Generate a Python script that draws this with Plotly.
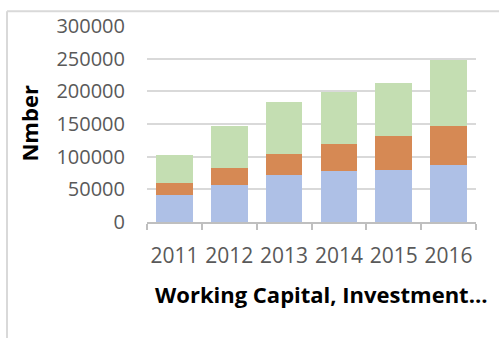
import plotly.graph_objects as go

# Stacked yearly totals
years = ["2011", "2012", "2013", "2014", "2015", "2016"]
working_capital = [41500, 56000, 71400, 77800, 79900, 87400]
investment = [17500, 25900, 32900, 41500, 51400, 59300]
other = [43400, 65400, 79400, 79800, 81300, 101300]

series_colors = ["#AEC0E6", "#D68954", "#C4DEB2"]
y_ticks = [0, 50000, 100000, 150000, 200000, 250000, 300000]

W, H = 499, 338
L, R, T, B = 147, 23, 21, 116
pw, ph = W - L - R, H - T - B

fig = go.Figure()
for name, vals, col in zip(["Working Capital", "Investment", "Other"],
                           [working_capital, investment, other], series_colors):
    fig.add_trace(go.Bar(x=years, y=vals, name=name,
                         marker=dict(color=col, line=dict(width=0))))


def px_x(p):
    return (p - L) / pw


def px_y(p):
    return (H - B - p) / ph


tick_font = dict(family="Open Sans", size=20, color="#595959")

fig.update_layout(
    width=W, height=H,
    margin=dict(l=L, r=R, t=T, b=B),
    paper_bgcolor="white", plot_bgcolor="white",
    barmode="stack", bargap=0.334,
    showlegend=False,
    xaxis=dict(
        type="category",
        showline=True, linecolor="#BFBFBF", linewidth=2,
        ticks="outside", tickson="boundaries", ticklen=6,
        tickcolor="#BFBFBF", tickwidth=2, tickangle=0,
        ticklabelstandoff=14,
        tickfont=dict(family="Open Sans", size=21, color="#595959"),
        showgrid=False,
    ),
    yaxis=dict(
        range=[0, 300000], tickvals=y_ticks,
        ticktext=[str(v) for v in y_ticks],
        showgrid=True, gridcolor="#D9D9D9", gridwidth=1.5,
        zeroline=False, showline=False,
        ticks="outside", ticklen=17, tickcolor="rgba(0,0,0,0)",
        tickfont=tick_font,
    ),
    annotations=[
        dict(text="<b>Working Capital, Investment…</b>",
             xref="paper", yref="paper",
             x=px_x(321), y=px_y(296), xanchor="center", yanchor="middle",
             showarrow=False,
             font=dict(family="Open Sans", size=22, color="black")),
        dict(text="<b>Nmber</b>", textangle=-90,
             xref="paper", yref="paper",
             x=px_x(29), y=px_y(121), xanchor="center", yanchor="middle",
             showarrow=False,
             font=dict(family="Open Sans", size=22, color="black")),
    ],
    shapes=[
        dict(type="line", xref="paper", yref="paper",
             x0=px_x(7), x1=px_x(7), y0=px_y(6), y1=px_y(345),
             line=dict(color="#D9D9D9", width=2)),
        dict(type="line", xref="paper", yref="paper",
             x0=px_x(7), x1=px_x(505), y0=px_y(6), y1=px_y(6),
             line=dict(color="#D9D9D9", width=2)),
    ],
)

fig.write_html("out.html")
